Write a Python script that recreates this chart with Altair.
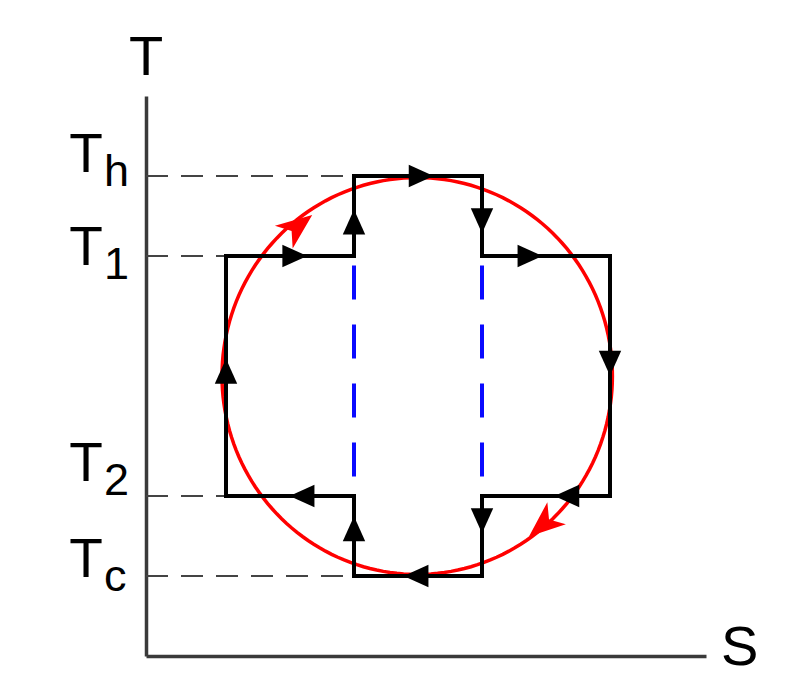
import altair as alt
import pandas as pd

# ---- values (S and T in diagram units, 0..7) ----
level_names = ["Th", "T1", "T2", "Tc"]
level_t = [6.0, 5.0, 2.0, 1.0]
level_dash_end = [2.6, 1.0, 1.0, 2.6]

label_main = ["T", "T", "T", "T"]
label_sub = ["h", "1", "2", "c"]
label_t = [6.05, 4.89, 2.19, 0.99]
label_s = [-0.75, -0.75, -0.75, -0.75]
sub_s = [-0.525, -0.525, -0.525, -0.525]

axis_names = ["T", "S"]
axis_name_s = [0.0, 7.42]
axis_name_t = [7.26, -0.11]

stair_s = [1.0, 1.0, 2.6, 2.6, 4.2, 4.2, 5.8, 5.8, 4.2, 4.2, 2.6, 2.6, 1.0]
stair_t = [2.0, 5.0, 5.0, 6.0, 6.0, 5.0, 5.0, 2.0, 2.0, 1.0, 1.0, 2.0, 2.0]

arrow_s = [1.0, 1.86, 2.6, 3.44, 4.2, 4.8, 5.8, 5.26, 4.2, 3.375, 2.6, 1.95]
arrow_t = [3.56, 5.0, 5.425, 6.0, 5.44, 5.0, 3.66, 2.0, 1.69, 1.0, 1.59, 2.0]
arrow_dir = [270, 0, 270, 0, 90, 0, 90, 180, 90, 180, 270, 180]

red_arrow_s = [1.9, 4.96]
red_arrow_t = [5.375, 1.64]
red_arrow_dir = [322, 140]

blue_s = [2.6, 4.2]
blue_top = [4.88, 4.88]
blue_bottom = [2.22, 2.22]

circle_center = (3.39, 3.5)
circle_radius = (2.44, 2.48)

# ---- tables ----
levels = pd.DataFrame({"name": level_names, "t": level_t, "s0": 0.0, "s1": level_dash_end})
labels = pd.DataFrame({"main": label_main, "sub": label_sub, "t": label_t, "s": label_s, "ss": sub_s})
axis_labels = pd.DataFrame({"text": axis_names, "s": axis_name_s, "t": axis_name_t})
stair = pd.DataFrame({"i": list(range(len(stair_s))), "s": stair_s, "t": stair_t})
arrows = pd.DataFrame({"s": arrow_s, "t": arrow_t, "dir": arrow_dir})
red_arrows = pd.DataFrame({"s": red_arrow_s, "t": red_arrow_t, "dir": red_arrow_dir})
blue = pd.DataFrame({"s": blue_s, "t0": blue_top, "t1": blue_bottom})

xs = alt.Scale(domain=[0, 7], nice=False, zero=False)
ys = alt.Scale(domain=[0, 7], nice=False, zero=False)
ax = alt.Axis(domain=True, ticks=False, labels=False, grid=False, title=None,
              domainColor="#3a3a3a", domainWidth=3.5)

X = lambda f: alt.X(f, scale=xs, axis=ax)
Y = lambda f: alt.Y(f, scale=ys, axis=ax)

dashed = alt.Chart(levels).mark_rule(color="#444444", strokeWidth=2.2, strokeDash=[22, 13]).encode(
    x=X("s0:Q"), x2="s1:Q", y=Y("t:Q")
)

blue_lines = alt.Chart(blue).mark_rule(color="#0a0aff", strokeWidth=4, strokeDash=[34, 25]).encode(
    x=X("s:Q"), y=Y("t0:Q"), y2="t1:Q"
)

cs, ct = circle_center
rs, rt = circle_radius
circle = alt.Chart(alt.sequence(0, 362, 2, as_="deg")).transform_calculate(
    s=f"{cs} + {rs} * cos(datum.deg * PI / 180)",
    t=f"{ct} + {rt} * sin(datum.deg * PI / 180)",
).mark_line(color="#ff0000", strokeWidth=3.5).encode(
    x=X("s:Q"), y=Y("t:Q"), order="deg:Q"
)

stair_line = alt.Chart(stair).mark_line(color="black", strokeWidth=4, strokeJoin="miter",
                                        strokeCap="square").encode(
    x=X("s:Q"), y=Y("t:Q"), order="i:Q"
)

arrow_heads = alt.Chart(arrows).mark_point(
    shape="M1,0L-1,-0.9L-1,0.9Z", filled=True, color="black", size=620, opacity=1, strokeWidth=0
).encode(x=X("s:Q"), y=Y("t:Q"), angle=alt.Angle("dir:Q", scale=None))

red_heads = alt.Chart(red_arrows).mark_point(
    shape="M1,0L-1,-0.8L-0.45,0L-1,0.8Z", filled=True, color="#ff0000", size=1300, opacity=1,
    strokeWidth=0
).encode(x=X("s:Q"), y=Y("t:Q"), angle=alt.Angle("dir:Q", scale=None))

font = "Liberation Sans"
main_text = alt.Chart(labels).mark_text(
    align="center", baseline="alphabetic", fontSize=55, font=font, color="black"
).encode(x=X("s:Q"), y=Y("t:Q"), text="main:N")

sub_text = alt.Chart(labels).mark_text(
    align="left", baseline="alphabetic", fontSize=45, font=font, color="black", dy=14
).encode(x=X("ss:Q"), y=Y("t:Q"), text="sub:N")

axis_text = alt.Chart(axis_labels).mark_text(
    align="center", baseline="alphabetic", fontSize=56, font=font, color="black"
).encode(x=X("s:Q"), y=Y("t:Q"), text="text:N")

chart = alt.layer(
    dashed, blue_lines, circle, stair_line, arrow_heads, red_heads, main_text, sub_text, axis_text
).properties(
    width=560, height=560,
    padding={"left": 138, "top": 88, "right": 85, "bottom": 22},
    autosize=alt.AutoSizeParams(type="none"),
    background="white",
).configure_view(stroke=None)

chart.save("out.html", embed_options={"renderer": "svg", "actions": False})
